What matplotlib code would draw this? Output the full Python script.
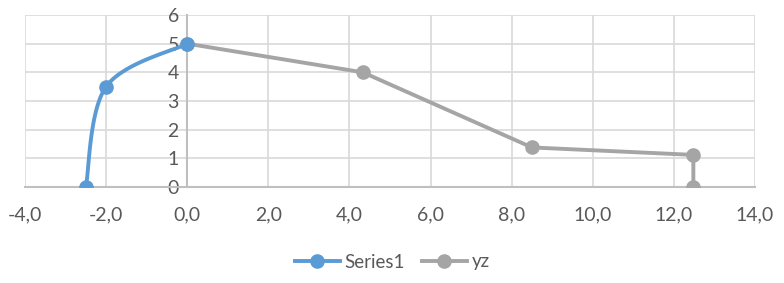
import numpy as np
import matplotlib.pyplot as plt

# data
series1_x = [-2.5, -2.0, 0.0]
series1_y = [0.0, 3.5, 5.0]
yz_x = [0.0, 4.33, 8.5, 12.48, 12.48]
yz_y = [5.0, 4.0, 1.38, 1.12, 0.0]
x_ticks = [-4, -2, 0, 2, 4, 6, 8, 10, 12, 14]
y_ticks = [0, 1, 2, 3, 4, 5, 6]

BLUE = "#5B9BD5"
GRAY = "#A5A5A5"
TXT = "#595959"


def smooth(xs, ys, n=60):
    # Catmull-Rom style bezier, like Excel's smoothed line
    p = np.column_stack([xs, ys]).astype(float)
    pts = np.vstack([p[0], p, p[-1]])
    out = []
    t = np.linspace(0, 1, n)[:, None]
    for i in range(1, len(pts) - 2):
        p0, p1, p2, p3 = pts[i - 1], pts[i], pts[i + 1], pts[i + 2]
        c1 = p1 + (p2 - p0) / 6
        c2 = p2 - (p3 - p1) / 6
        seg = ((1 - t) ** 3) * p1 + 3 * ((1 - t) ** 2) * t * c1 + 3 * (1 - t) * t ** 2 * c2 + t ** 3 * p2
        out.append(seg)
    s = np.vstack(out)
    return s[:, 0], s[:, 1]


plt.rcParams["font.family"] = ["Lato", "DejaVu Sans"]
fig = plt.figure(figsize=(7.84, 2.83), dpi=100)
ax = fig.add_axes([25 / 784, 1 - 187 / 283, 730 / 784, 172 / 283])

sx, sy = smooth(series1_x, series1_y)
ax.plot(sx, sy, color=BLUE, lw=2.8, solid_capstyle="round", zorder=3)
ax.plot(series1_x, series1_y, ls="none", marker="o", ms=9.5, color=BLUE, zorder=4)
ax.plot(yz_x, yz_y, color=GRAY, lw=2.8, marker="o", ms=9.5, zorder=3)

# legend handles
h1, = ax.plot([], [], color=BLUE, lw=2.8, marker="o", ms=9.5, label="Series1")
h2, = ax.plot([], [], color=GRAY, lw=2.8, marker="o", ms=9.5, label="yz")

ax.set_xlim(-4, 14)
ax.set_ylim(0, 6)
ax.set_xticks(x_ticks)
ax.set_yticks(y_ticks)
ax.set_xticklabels([("%.1f" % v).replace(".", ",") for v in x_ticks])
ax.set_yticklabels([str(v) for v in y_ticks])
ax.grid(True, color="#D9D9D9", lw=1.2, zorder=0)
ax.set_axisbelow(True)

for s in ["top", "right"]:
    ax.spines[s].set_visible(False)
ax.spines["left"].set_position(("data", 0))
ax.spines["left"].set_color("#BFBFBF")
ax.spines["left"].set_linewidth(1.5)
ax.spines["bottom"].set_color("#BFBFBF")
ax.spines["bottom"].set_linewidth(1.5)
ax.tick_params(length=0, labelsize=14, labelcolor=TXT)
ax.tick_params(axis="x", pad=14)
ax.tick_params(axis="y", pad=6)

fig.legend(handles=[h1, h2], loc="center", bbox_to_anchor=(0.5, 1 - 262 / 283),
           ncol=2, frameon=False, fontsize=13.5, labelcolor=TXT,
           handlelength=2.4, columnspacing=0.9, handletextpad=0.25)

fig.savefig("out.png", dpi=100)
